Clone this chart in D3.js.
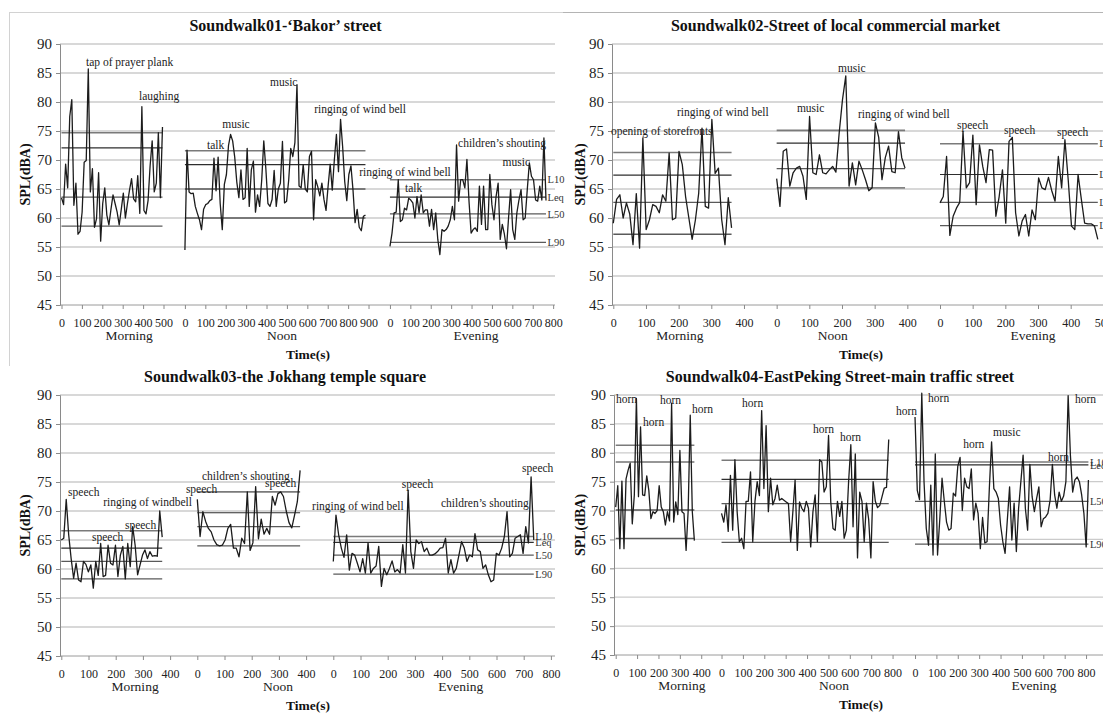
<!DOCTYPE html>
<html><head><meta charset="utf-8">
<script src="https://cdn.jsdelivr.net/npm/d3@7"></script>
<style>body{margin:0;background:#fff}svg{display:block}</style>
</head><body>
<svg id="c" width="1103" height="713"></svg>
<script>
// ---------- shared labels ----------
const yTicks = [45, 50, 55, 60, 65, 70, 75, 80, 85, 90];
const periods = ["Morning", "Noon", "Evening"];
const statNames = ["L10", "Leq", "L50", "L90"];
const titles = [
  "Soundwalk01-\u2018Bakor\u2019 street",
  "Soundwalk02-Street of local commercial market",
  "Soundwalk03-the Jokhang temple square",
  "Soundwalk04-EastPeking Street-main traffic street"
];

// ---------- Soundwalk01 ----------
const p1Morning = [63.5,62.3,69.3,65.2,77.5,80.4,62.2,66,57.2,57.7,61,69.6,69.9,85.7,64.5,68.5,58.4,59.9,67.8,56,62.5,65.2,60.5,58.8,61.5,64,62.5,61,58.8,61.5,64.3,60,62.5,64.8,66.8,63.3,62.8,67.3,60.8,79.2,61.3,60.7,63,69,73.3,64.5,66,74.7,63.5,75.7];
const p1Noon = [54.5,71.7,64.5,64.2,64.3,62,60.8,59.7,58,61.5,62.3,62.5,63,63.2,70.3,64.7,70.5,62.5,58,65.8,67.5,72.5,74.4,73.3,70.5,66.2,63.5,68.3,63.2,63.5,72,62,68.3,69.8,61,64,62,66.5,73.3,68.5,62.5,62,63.2,68.2,62,65,66,73.2,62.6,62.9,66.5,72,70.6,73,83,65.5,65.2,69.2,65,64.5,70.6,71.5,59.7,66.6,65.4,63.8,66,63.2,61.3,65.5,69.3,64.8,70,74.4,68,77,72.3,66.3,63,67.5,69,64.8,59.2,61.5,58.4,57.8,60.3,60.5];
const p1Evening = [55.1,57.4,60.9,61,66.6,59.4,59.7,61.7,61.4,63.4,63.1,62.6,60,63.7,60.9,64,60.9,61.4,61.4,58.6,61.5,58,60.9,56.3,53.7,58,57.7,58,58.6,59.7,62,59.7,72.6,62.9,66.6,66.6,65.2,70.1,62.9,57.4,58,58.3,57.7,65.5,58.9,65.5,58,58,67.5,62.3,59.7,63.7,66,56.3,58.9,57.2,54.7,60,64.9,58,56.3,60.9,63.1,64.9,59.7,60,64.9,69.5,67.2,66.6,63.1,62.9,65.5,63.1,73.8,63];
const p1Durations = [495, 885, 765];
const p1AxisMax = [500, 900, 800];
const p1Stats = [[74.7,72.1,63.6,58.6],[71.6,69.2,65,60],[66.6,63.6,60.7,55.8]];
const p1Notes = [
  [0,120,86.2,"tap of prayer plank"],[0,380,80.3,"laughing"],
  [1,108,71.9,"talk"],[1,183,75.5,"music"],[1,417,82.8,"music"],[1,634,78.1,"ringing of wind bell"],
  [2,-151,67.2,"ringing of wind bell"],[2,74,64.5,"talk"],[2,334,72.2,"children\u2019s shouting"],[2,552,69,"music"]
];

// ---------- Soundwalk02 ----------
const p2Morning = [59.1,63.2,64,60,62.6,60.7,55.4,64.2,54.8,73.8,58,59.7,62.3,62,60.9,64,62.9,71.2,59.7,60,71.5,69.2,63.7,60,56.3,59.7,64.3,75.5,62,61.7,77,67.7,68.6,59.7,55.4,63.5,58.3];
const p2Noon = [66.8,62,71.5,71.9,65.5,67.8,68.6,68.9,67.2,63.2,77.5,67.8,67.5,70.9,67.8,67.6,68.3,68.9,67.9,74.7,80.4,84.5,65.5,69.5,65.7,69.8,68.3,66.6,64.7,65.2,76.4,73.9,66.6,70.4,72.4,68,67.8,74.9,70.4,68.6];
const p2Evening = [62.6,63.7,70.6,57,60.3,61.7,62.7,74.9,65.2,66.1,74.3,62.3,72.6,68.9,66.1,71.8,71.7,60.3,63.7,68.3,59.1,73.2,73.9,60.9,56.9,59.5,60.6,56.9,61.4,59.7,66.9,65.2,64.9,67,64.7,62.9,70.6,65.2,73.5,66.6,58.6,58,67.5,63.2,59.1,59,59,58.6,56.3];
const p2Durations = [362, 393, 483];
const p2AxisMax = [400, 400, 500];
const p2Stats = [[71.3,67.4,62.7,57.2],[75.1,72.9,68.5,65.2],[72.8,67.5,62.7,58.7]];
const p2Notes = [
  [0,-7,74.3,"opening of storefronts"],[0,195,77.6,"ringing of wind bell"],
  [1,62,78.3,"music"],[1,188,85.2,"music"],[1,249,77.2,"ringing of wind bell"],
  [2,52,75.3,"speech"],[2,196,74.5,"speech"],[2,358,74.1,"speech"]
];

// ---------- Soundwalk03 ----------
const p3Morning = [65,65.3,72,65.9,61.8,58.4,61,58.1,57.8,61.3,60.8,59.5,60.7,56.7,61.3,58.9,64.4,58.7,58.9,64.1,61,60.7,64.1,58.7,62.4,63.9,58.3,64.4,60.4,67.3,64.1,59,60.7,62.4,63.3,61.8,63,62.2,62.3,62.2,70,65.5];
const p3Noon = [72,65.6,69.9,68.2,67,66.4,65,64.2,64,64.1,65,67,67.7,63.6,63.6,62.1,65.3,64.4,73.3,63.2,64.5,74.2,65.2,68.6,66,67,66,72.5,71,73,73.3,72.5,70,68,67.1,69.3,71.6,77];
const p3Evening = [61.3,69.3,65.9,63.6,62,65.9,59.8,62.7,62.4,61,59.5,61.8,59.3,64.5,59.3,60.1,60.5,63.9,57,60.1,59,60.1,61.4,59.5,59.9,59.3,64.2,59.3,73.6,63,60.1,65,64.4,64.7,63,63.6,62.4,62.4,62.6,63,63.6,63.7,65.3,59.3,61.6,59.3,60.1,62.4,64.7,63.6,61.3,62.4,62.1,66.1,63.3,63,60.1,60.7,59,57.8,58.1,62.7,62.4,63.6,65.6,69.9,62.1,62.7,65.3,65.6,65.9,62.7,67.3,64.5,75.9,65];
const p3Durations = [371, 378, 737];
const p3AxisMax = [400, 400, 800];
const p3Stats = [[66.6,63.6,61.3,58.3],[73.3,69.7,67.3,64],[65.6,64.6,62.4,59.1]];
const p3Notes = [
  [0,25,72.6,"speech"],[0,154,70.9,"ringing of windbell"],[0,113,64.8,"speech"],[0,234,66.9,"speech"],
  [1,-42,73.1,"speech"],[1,17,75.3,"children\u2019s shouting"],[1,249,74.1,"speech"],
  [2,-78,70.2,"ringing of wind bell"],[2,252,74,"speech"],[2,396,70.7,"children\u2019s shouting"],[2,694,76.7,"speech"]
];

// ---------- Soundwalk04 ----------
const p4Morning = [70.6,74.3,63.4,75.1,63.4,75.5,77,78.2,67.7,72.7,89.4,72.4,84.5,72.7,72.6,76,73.5,68.6,69.8,69.5,70,74.3,70.6,69.8,67.5,69.8,68.2,88.6,68,71.5,69.3,80.4,69.8,69.5,63.1,70,86.5,69.8,64.8];
const p4Noon = [69.5,68,71,66.4,76.1,66.6,78.8,69.8,64.6,65.2,63.4,71.6,71.6,76.7,64.6,71.6,75,72.6,87.3,73.8,84.7,69.8,75.6,71,72.1,74.4,71.8,72.1,71.8,71.5,71.2,64.6,69.8,75.3,63.1,71.5,70.4,69.8,71.6,70.4,63.7,69.8,72.7,64.6,78.8,78.4,73.2,74.1,83,71.5,66.9,66.6,71.6,69,71.6,65.2,66.6,75,81.4,67.2,79.8,61.8,73.2,71.6,64.6,71.3,68.5,61.8,75,71.6,70.5,70.9,72.4,73.9,74,82.3];
const p4Evening = [86.2,73.5,71.9,90.3,75,66.9,64,74.4,62.3,79.8,62.3,68.5,75.6,71.6,68,66.6,66.9,73,72.5,77.7,79.2,70,75.6,74.1,73.8,77.2,68.4,71.3,69.5,63.4,68.8,64.4,64.6,73.8,81.9,73.8,73.2,72.1,67.5,64.6,62.6,68.4,74.1,64.9,71.3,62.9,70.4,75,79.6,70.4,66.6,78,72.4,69.8,72.1,74.1,67.2,68.6,68.9,69.5,71.8,78,72.7,70.4,73.2,71.6,72.5,75,89.9,79.6,73.2,75.3,75.8,75,72.7,69.5,63.7,75.3];
const p4Durations = [368, 782, 811];
const p4AxisMax = [400, 800, 800];
const p4Stats = [[81.3,78.4,70.1,65.2],[78.7,75.4,71.2,64.5],[78.4,77.9,71.6,64.2]];
const p4Notes = [
  [0,1,88.6,"horn"],[0,128,84.7,"horn"],[0,207,88.4,"horn"],[0,357,86.9,"horn"],
  [1,96,87.9,"horn"],[1,428,83.4,"horn"],[1,554,82.1,"horn"],
  [2,-89,86.6,"horn"],[2,61,88.8,"horn"],[2,225,80.9,"horn"],[2,365,82.9,"music"],[2,622,78.6,"horn"],[2,748,88.6,"horn"]
];

const panels = [
  {series:[p1Morning,p1Noon,p1Evening], durations:p1Durations, axisMax:p1AxisMax, stats:p1Stats, notes:p1Notes},
  {series:[p2Morning,p2Noon,p2Evening], durations:p2Durations, axisMax:p2AxisMax, stats:p2Stats, notes:p2Notes},
  {series:[p3Morning,p3Noon,p3Evening], durations:p3Durations, axisMax:p3AxisMax, stats:p3Stats, notes:p3Notes},
  {series:[p4Morning,p4Noon,p4Evening], durations:p4Durations, axisMax:p4AxisMax, stats:p4Stats, notes:p4Notes}
];

// ---------- layout (positions only) ----------
const layout = [
  {x0:61.5, k:0.204, offsets:[0,605,1610], axisX:60, right:555, top:44, bottom:305, titleX:285.5, titleY:31, splX:27, timeX:308, periodAt:[331,476,422]},
  {x0:613.3, k:0.3267, offsets:[0,500,1000], axisX:612, right:1103, top:44, bottom:305, titleX:835.5, titleY:31, splX:582, timeX:861, periodAt:[204,172,285]},
  {x0:61.3, k:0.272, offsets:[0,500,1000], axisX:60, right:555, top:395, bottom:656, titleX:285, titleY:382, splX:27, timeX:308, periodAt:[271,297,469]},
  {x0:615.7, k:0.2138, offsets:[0,495,1400], axisX:614, right:1103, top:395, bottom:655, titleX:840, titleY:382, splX:582, timeX:861, periodAt:[310,526,557]}
];

const SERIF = "'Liberation Serif','Times New Roman',serif";
const svg = d3.select("#c");

// panel frame lines
svg.append("line").attr("x1",9).attr("x2",563).attr("y1",12.5).attr("y2",12.5).attr("stroke","#d2d2d2");
svg.append("line").attr("x1",9.5).attr("x2",9.5).attr("y1",12).attr("y2",366).attr("stroke","#d2d2d2");
svg.append("line").attr("x1",563).attr("x2",1103).attr("y1",12.5).attr("y2",12.5).attr("stroke","#b4b4b4");

const statColor = ["#7a7a7a","#2e2e2e","#5a5a5a","#5a5a5a"];
const statWidth = [1.6,1.2,1.3,1.3];

panels.forEach((p, i) => {
  const L = layout[i];
  const g = svg.append("g").attr("font-family", SERIF);
  const y = d3.scaleLinear().domain([45, 90]).range([L.bottom, L.top]);
  const x = d3.scaleLinear().domain([0, 1000]).range([L.x0, L.x0 + 1000 * L.k]);

  // gridlines
  g.append("g").selectAll("line").data(yTicks.filter(v => v > 45)).join("line")
    .attr("x1", L.axisX).attr("x2", L.right)
    .attr("y1", d => y(d)).attr("y2", d => y(d))
    .attr("stroke", "#cbcbcb").attr("stroke-width", 1.3);
  // baseline
  g.append("line").attr("x1", L.axisX).attr("x2", L.right)
    .attr("y1", L.bottom).attr("y2", L.bottom).attr("stroke", "#9a9a9a").attr("stroke-width", 1);

  // y axis
  const ya = g.append("g").attr("transform", `translate(${L.axisX},0)`)
    .call(d3.axisLeft(y).tickValues(yTicks).tickSize(4).tickPadding(4).tickFormat(d3.format("d")));
  ya.select(".domain").attr("stroke", "#8a8a8a");
  ya.selectAll(".tick line").attr("stroke", "#8a8a8a");
  ya.selectAll("text").attr("font-family", SERIF).attr("font-size", 15).attr("fill", "#222");

  // title
  g.append("text").attr("x", L.titleX).attr("y", L.titleY).attr("text-anchor", "middle")
    .attr("font-size", 16).attr("font-weight", "bold").attr("fill", "#111").text(titles[i]);
  // y label
  g.append("text").attr("transform", `translate(${L.splX},${(L.top + L.bottom) / 2}) rotate(-90)`)
    .attr("text-anchor", "middle").attr("dominant-baseline", "middle")
    .attr("font-size", 14).attr("font-weight", "bold").attr("fill", "#111").text("SPL(dBA)");
  // x title
  g.append("text").attr("x", L.timeX).attr("y", L.bottom + 54).attr("text-anchor", "middle")
    .attr("font-size", 13.5).attr("font-weight", "bold").attr("fill", "#111").text("Time(s)");

  const segScales = [];
  p.series.forEach((vals, s) => {
    const off = L.offsets[s];
    const max = p.axisMax[s];
    const sx = d3.scaleLinear().domain([0, max]).range([x(off), x(off + max)]);
    segScales.push(sx);

    const ax = g.append("g").attr("transform", `translate(0,${L.bottom})`)
      .call(d3.axisBottom(sx).tickValues(d3.range(0, max + 1, 100)).tickSize(4).tickPadding(9.5).tickFormat(d3.format("d")));
    ax.select(".domain").remove();
    ax.selectAll(".tick line").attr("stroke", "#8a8a8a");
    ax.selectAll("text").attr("font-family", SERIF).attr("font-size", 12).attr("fill", "#222");

    const dur = p.durations[s];
    const step = dur / (vals.length - 1);

    // statistic lines
    g.append("g").selectAll("line").data(p.stats[s]).join("line")
      .attr("x1", sx(0)).attr("x2", sx(dur))
      .attr("y1", d => y(d)).attr("y2", d => y(d))
      .attr("stroke", (d, j) => statColor[j]).attr("stroke-width", (d, j) => statWidth[j]);

    // SPL line
    g.append("path").datum(vals)
      .attr("d", d3.line().x((d, k) => sx(k * step)).y(d => y(d)))
      .attr("fill", "none").attr("stroke", "#1c1c1c").attr("stroke-width", 1.3).attr("stroke-linejoin", "round");

    // period label
    g.append("text").attr("x", sx(L.periodAt[s])).attr("y", L.bottom + 35).attr("text-anchor", "middle")
      .attr("font-size", 13.5).attr("fill", "#222").text(periods[s]);

    // stat labels on evening segment
    if (s === 2) {
      g.append("g").selectAll("text").data(p.stats[s]).join("text")
        .attr("x", sx(dur) + 1.5).attr("y", d => y(d)).attr("dy", "0.35em")
        .attr("font-size", 10.5).attr("fill", "#333").text((d, j) => statNames[j]);
    }
  });

  // event annotations
  g.append("g").selectAll("text").data(p.notes).join("text")
    .attr("x", d => segScales[d[0]](d[1])).attr("y", d => y(d[2]))
    .attr("font-size", 11.5).attr("fill", "#222").text(d => d[3]);
});
</script>
</body></html>
